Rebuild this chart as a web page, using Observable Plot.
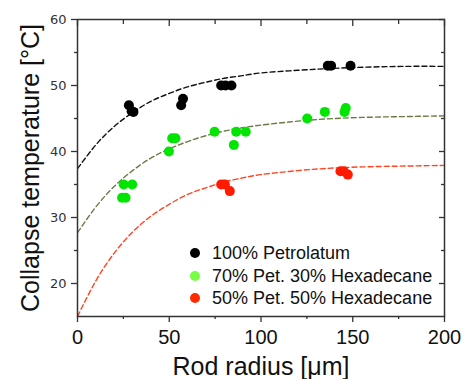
<!DOCTYPE html>
<html>
<head>
<meta charset="utf-8">
<script src="https://cdn.jsdelivr.net/npm/d3@7"></script>
<script src="https://cdn.jsdelivr.net/npm/@observablehq/plot@0.6"></script>
<style>
  html, body { margin: 0; padding: 0; background: #fff; }
  #wrap { position: relative; width: 464px; height: 379px; overflow: hidden; }
  #legend { position: absolute; left: 0; top: 0; font-family: "Liberation Sans", Arial, sans-serif; font-size: 18px; color: #111; }
  .row { position: absolute; white-space: nowrap; height: 22px; }
  .sw { width: 10px; height: 10px; border-radius: 50%; position: absolute; left: 0; top: 6px; }
  .lb { position: absolute; left: 22px; top: 0; line-height: 22px; }
</style>
</head>
<body>
<div id="wrap"><div id="chart"></div><div id="legend"></div></div>
<script>
// ---- data ----
const seriesNames = ["100% Petrolatum", "70% Pet. 30% Hexadecane", "50% Pet. 50% Hexadecane"];
const pointColors = ["#000000", "#00e600", "#ff1a00"];
const legendColors = ["#000000", "#77ff44", "#ff2a00"];
const fitColors = ["#111111", "#6b7a45", "#ff4522"];

const blackX = [28, 29.5, 30.5, 56.5, 57.5, 78.3, 80.7, 83.9, 136.4, 138.2, 148.8];
const blackY = [47, 46.1, 46, 47, 48, 50, 50, 50, 53, 53, 53];
const greenX = [24.3, 26.2, 25.2, 29.8, 49.8, 51.6, 53.4, 74.7, 85.2, 86.5, 91.7, 125.2, 134.8, 145.5, 146.2];
const greenY = [33, 33, 35, 35, 40, 42, 42, 43, 41, 43, 43, 45, 46, 46, 46.6];
const redX = [78.3, 80.3, 83, 143.3, 145.1, 147.3];
const redY = [35, 35, 34, 37, 37, 36.5];

// dashed fit curves
const fitX     = [0, 10, 20, 30, 40, 50, 60, 70, 80, 90, 100, 120, 140, 160, 180, 200];
const fitBlack = [37.4, 41.0, 43.8, 45.9, 47.6, 48.8, 49.8, 50.5, 51.1, 51.5, 51.9, 52.3, 52.6, 52.8, 52.9, 52.9];
const fitGreen = [27.7, 31.6, 34.7, 37.1, 39.0, 40.4, 41.5, 42.4, 43.1, 43.6, 44.0, 44.6, 45.0, 45.2, 45.3, 45.4];
const fitRed   = [15.0, 20.4, 24.6, 27.8, 30.2, 32.0, 33.5, 34.5, 35.4, 36.0, 36.5, 37.1, 37.5, 37.7, 37.8, 37.9];

const xMajor = [0, 50, 100, 150, 200];
const xMinor = [25, 75, 125, 175];
const yMajor = [20, 30, 40, 50, 60];
const yMinor = [25, 35, 45, 55];

const xTitle = "Rod radius [\u03bcm]";
const yTitle = "Collapse temperature [\u00b0C]";

// ---- build tables ----
const pts = (xs, ys, s) => xs.map((x, i) => ({x, y: ys[i], s}));
const points = [...pts(blackX, blackY, 0), ...pts(greenX, greenY, 1), ...pts(redX, redY, 2)];
const fits = [fitBlack, fitGreen, fitRed].map((ys, s) => fitX.map((x, i) => ({x, y: ys[i], s})));

const font = "Liberation Sans, Arial, sans-serif";
const none = () => "";

const chart = Plot.plot({
  width: 464, height: 379,
  marginLeft: 77, marginRight: 20, marginTop: 19, marginBottom: 63,
  x: {domain: [0, 200]},
  y: {domain: [15, 60]},
  style: {background: "white", overflow: "visible"},
  marks: [
    ...fits.map((f, s) => Plot.line(f, {x: "x", y: "y", curve: "natural", stroke: fitColors[s], strokeWidth: 1.4, strokeDasharray: "5,3", clip: true})),
    Plot.dot(points, {x: "x", y: "y", r: 5, fill: d => pointColors[d.s], stroke: "none"}),
    Plot.frame({stroke: "#333", strokeWidth: 1.5}),
    Plot.axisX({anchor: "bottom", ticks: xMajor, tickSize: 6, tickPadding: 7, fontSize: 20, fontFamily: font, fill: "#111", stroke: "#333", strokeWidth: 1.3, label: null}),
    Plot.axisX({anchor: "bottom", ticks: xMinor, tickSize: 3, tickFormat: none, stroke: "#333", strokeWidth: 1.3, label: null}),
    Plot.axisX({anchor: "top", ticks: xMajor, tickSize: 6, dy: 6, tickFormat: none, stroke: "#333", strokeWidth: 1.3, label: null}),
    Plot.axisX({anchor: "top", ticks: xMinor, tickSize: 4, dy: 4, tickFormat: none, stroke: "#333", strokeWidth: 1.3, label: null}),
    Plot.axisY({anchor: "left", ticks: yMajor, tickSize: 6, tickPadding: 5, fontSize: 13, fontFamily: "DejaVu Sans, sans-serif", fill: "#333", stroke: "#333", strokeWidth: 1.3, label: null}),
    Plot.axisY({anchor: "left", ticks: yMinor, tickSize: 3, tickFormat: none, stroke: "#333", strokeWidth: 1.3, label: null}),
    Plot.axisY({anchor: "right", ticks: yMajor, tickSize: 6, dx: -6, tickFormat: none, stroke: "#333", strokeWidth: 1.3, label: null}),
    Plot.axisY({anchor: "right", ticks: yMinor, tickSize: 4, dx: -4, tickFormat: none, stroke: "#333", strokeWidth: 1.3, label: null}),
    Plot.text([xTitle], {frameAnchor: "bottom", dy: 50, fontSize: 25, fontFamily: font, fill: "#111", textAnchor: "middle", lineAnchor: "middle"}),
    Plot.text([yTitle], {frameAnchor: "left", dx: -47, rotate: -90, fontSize: 25, fontFamily: font, fill: "#111", textAnchor: "middle", lineAnchor: "middle"})
  ]
});
document.getElementById("chart").appendChild(chart);

// legend
const legend = document.getElementById("legend");
const legendTop = [242, 265, 287];
seriesNames.forEach((name, i) => {
  const row = document.createElement("div");
  row.className = "row";
  row.style.left = "190px";
  row.style.top = legendTop[i] + "px";
  row.innerHTML = `<span class="sw" style="background:${legendColors[i]}"></span><span class="lb">${name}</span>`;
  legend.appendChild(row);
});
</script>
</body>
</html>
